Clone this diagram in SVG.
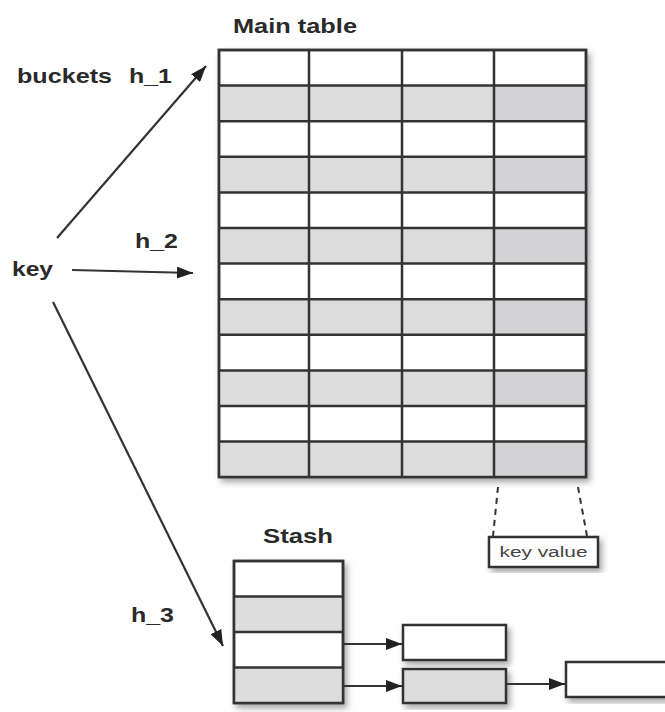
<svg xmlns="http://www.w3.org/2000/svg" width="665" height="712" viewBox="0 0 665 712">
<style>
.lbl{font-family:"Liberation Sans",Arial,sans-serif;font-weight:bold;font-size:21px;fill:#2a2a2a}
.box{fill:#fff;stroke:#333;stroke-width:2.5}
.g{fill:#dcdcdd;stroke:none}
.gd{fill:#d3d3d5;stroke:none}
.grid{stroke:#333;stroke-width:2.5;fill:none}
.conn{stroke:#333;stroke-width:2.2;fill:none}
.dash{stroke:#333;stroke-width:2;fill:none;stroke-dasharray:6,5}
.kv{font-family:"Liberation Sans",Arial,sans-serif;font-size:14px;fill:#444}
</style>
<defs>
<marker id="ah" viewBox="0 0 16 12" refX="16" refY="6" markerWidth="16" markerHeight="12" markerUnits="userSpaceOnUse" orient="auto">
<path d="M0,0 L16,6 L0,12 z" fill="#222"/>
</marker>
<filter id="sh" x="-10%" y="-10%" width="130%" height="130%">
<feDropShadow dx="3" dy="4" stdDeviation="3" flood-color="#000" flood-opacity="0.35"/>
</filter>
</defs>
<rect width="665" height="712" fill="#fff"/>

<g id="labels">
<text class="lbl" x="233" y="33" textLength="124" lengthAdjust="spacingAndGlyphs">Main table</text>
<text class="lbl" x="17" y="83" textLength="95" lengthAdjust="spacingAndGlyphs">buckets</text>
<text class="lbl" x="129" y="83" textLength="43" lengthAdjust="spacingAndGlyphs">h_1</text>
<text class="lbl" x="135" y="248" textLength="43" lengthAdjust="spacingAndGlyphs">h_2</text>
<text class="lbl" x="12" y="276" textLength="41" lengthAdjust="spacingAndGlyphs">key</text>
<text class="lbl" x="131" y="622" textLength="43" lengthAdjust="spacingAndGlyphs">h_3</text>
<text class="lbl" x="263" y="543" textLength="70" lengthAdjust="spacingAndGlyphs">Stash</text>
</g>

<g id="main-table">
<rect class="box" x="219" y="50" width="367" height="427" filter="url(#sh)"/>
<g>
<rect class="g" x="219" y="85.6" width="275" height="35.6"/><rect class="gd" x="494" y="85.6" width="92" height="35.6"/>
<rect class="g" x="219" y="156.8" width="275" height="35.6"/><rect class="gd" x="494" y="156.8" width="92" height="35.6"/>
<rect class="g" x="219" y="228" width="275" height="35.6"/><rect class="gd" x="494" y="228" width="92" height="35.6"/>
<rect class="g" x="219" y="299.2" width="275" height="35.6"/><rect class="gd" x="494" y="299.2" width="92" height="35.6"/>
<rect class="g" x="219" y="370.4" width="275" height="35.6"/><rect class="gd" x="494" y="370.4" width="92" height="35.6"/>
<rect class="g" x="219" y="441.6" width="275" height="35.4"/><rect class="gd" x="494" y="441.6" width="92" height="35.4"/>
</g>
<path class="grid" d="M219,85.6H586M219,121.2H586M219,156.8H586M219,192.4H586M219,228H586M219,263.6H586M219,299.2H586M219,334.8H586M219,370.4H586M219,406H586M219,441.6H586M309,50V477M402,50V477M494,50V477"/>
<rect class="grid" x="219" y="50" width="367" height="427"/>
</g>

<g id="key-value">
<rect class="box" x="489" y="537" width="109" height="30" filter="url(#sh)"/>
<text class="kv" x="543.5" y="557" text-anchor="middle" textLength="88" lengthAdjust="spacingAndGlyphs">key value</text>
</g>

<g id="stash">
<rect class="box" x="234" y="561" width="109" height="142" filter="url(#sh)"/>
<rect class="g" x="234" y="596.5" width="109" height="35.5"/>
<rect class="g" x="234" y="667.5" width="109" height="35.5"/>
<path class="grid" d="M234,596.5H343M234,632H343M234,667.5H343"/>
<rect class="grid" x="234" y="561" width="109" height="142"/>
</g>

<g id="chain-box-1">
<rect class="box" x="403" y="625" width="103" height="35" filter="url(#sh)"/>
</g>
<g id="chain-box-2">
<rect class="box" x="403" y="669" width="103" height="34" filter="url(#sh)" style="fill:#dcdcdd"/>
</g>
<g id="chain-box-3">
<rect class="box" x="566" y="662" width="102" height="35" filter="url(#sh)"/>
</g>

<g id="connectors">
<line class="conn" x1="57" y1="238" x2="206" y2="66" marker-end="url(#ah)"/>
<line class="conn" x1="72" y1="270" x2="193" y2="273" marker-end="url(#ah)"/>
<line class="conn" x1="53" y1="302" x2="223" y2="646" marker-end="url(#ah)"/>
<line class="conn" x1="343" y1="644" x2="402" y2="644" marker-end="url(#ah)"/>
<line class="conn" x1="343" y1="686" x2="402" y2="686" marker-end="url(#ah)"/>
<line class="conn" x1="506" y1="684" x2="565" y2="684" marker-end="url(#ah)"/>
<line class="dash" x1="498" y1="487" x2="493" y2="536"/>
<line class="dash" x1="578" y1="487" x2="587" y2="536"/>
</g>
</svg>
